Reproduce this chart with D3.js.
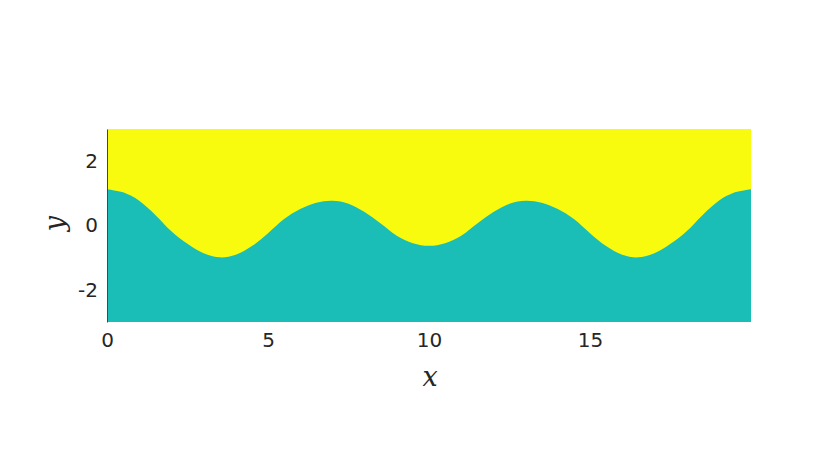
<!DOCTYPE html>
<html>
<head>
<meta charset="utf-8">
<script src="https://cdn.jsdelivr.net/npm/d3@7"></script>
<style>
  body { margin: 0; background: #fff; }
  svg { display: block; }
  .tick text { font-family: "DejaVu Sans", sans-serif; font-size: 20px; fill: #262626; }
</style>
</head>
<body>
<div id="vis"></div>
<script>
// interface position (x, height of the lower fluid)
const xs = [0, 0.5, 1, 1.5, 2, 2.5, 3, 3.5, 4, 4.5, 5, 5.5, 6, 6.5, 7, 7.5, 8, 8.5, 9, 9.5, 10,
            10.5, 11, 11.5, 12, 12.5, 13, 13.5, 14, 14.5, 15, 15.5, 16, 16.5, 17, 17.5, 18, 18.5, 19, 19.5, 20];
const ys = [1.13, 1.03, 0.77, 0.33, -0.18, -0.57, -0.86, -0.99, -0.91, -0.64, -0.24, 0.20, 0.51, 0.71, 0.77, 0.68, 0.42, 0.06, -0.32, -0.55, -0.63,
            -0.55, -0.32, 0.06, 0.42, 0.68, 0.77, 0.71, 0.51, 0.20, -0.24, -0.64, -0.91, -0.99, -0.86, -0.57, -0.18, 0.33, 0.77, 1.03, 1.13];
const xTicks = [0, 5, 10, 15];
const yTicks = [-2, 0, 2];

const width = 830;
const height = 467;
const margin = { top: 129, right: 79, bottom: 145, left: 107 };

const svg = d3.select('#vis')
  .append('svg')
  .attr('width', width)
  .attr('height', height);

const x = d3.scaleLinear().domain([0, 20]).range([margin.left, width - margin.right]);
const y = d3.scaleLinear().domain([-3, 3]).range([height - margin.bottom, margin.top]);

const pts = xs.map((d, i) => ({ x: d, y: ys[i] }));

// upper fluid fills the whole box
svg.append('rect')
  .attr('x', x(0))
  .attr('y', y(3))
  .attr('width', x(20) - x(0))
  .attr('height', y(-3) - y(3))
  .attr('fill', '#f9fb0e');

// lower fluid
const area = d3.area()
  .x(d => x(d.x))
  .y0(y(-3))
  .y1(d => y(d.y))
  .curve(d3.curveCatmullRom);

svg.append('path')
  .datum(pts)
  .attr('d', area)
  .attr('fill', '#1bbeb6');

// axes
const xAxis = svg.append('g')
  .attr('transform', `translate(0,${y(-3)})`)
  .call(d3.axisBottom(x).tickValues(xTicks).tickSize(0).tickPadding(11));
xAxis.select('.domain').remove();

const yAxis = svg.append('g')
  .attr('transform', `translate(${x(0)},0)`)
  .call(d3.axisLeft(y).tickValues(yTicks).tickSize(0).tickPadding(9)
    .tickFormat(d => String(d)));
yAxis.select('.domain').attr('stroke', '#3c4a4a').attr('stroke-width', 1);

// axis labels
svg.append('text')
  .attr('x', x(10) + 1)
  .attr('y', 386)
  .attr('text-anchor', 'middle')
  .style('font-family', '"DejaVu Serif", serif')
  .style('font-style', 'italic')
  .style('font-size', '27px')
  .attr('fill', '#262626')
  .text('x');

svg.append('text')
  .attr('transform', `translate(64,${y(0) - 2}) rotate(-90)`)
  .attr('text-anchor', 'middle')
  .style('font-family', '"DejaVu Serif", serif')
  .style('font-style', 'italic')
  .style('font-size', '27px')
  .attr('fill', '#262626')
  .text('y');
</script>
</body>
</html>
